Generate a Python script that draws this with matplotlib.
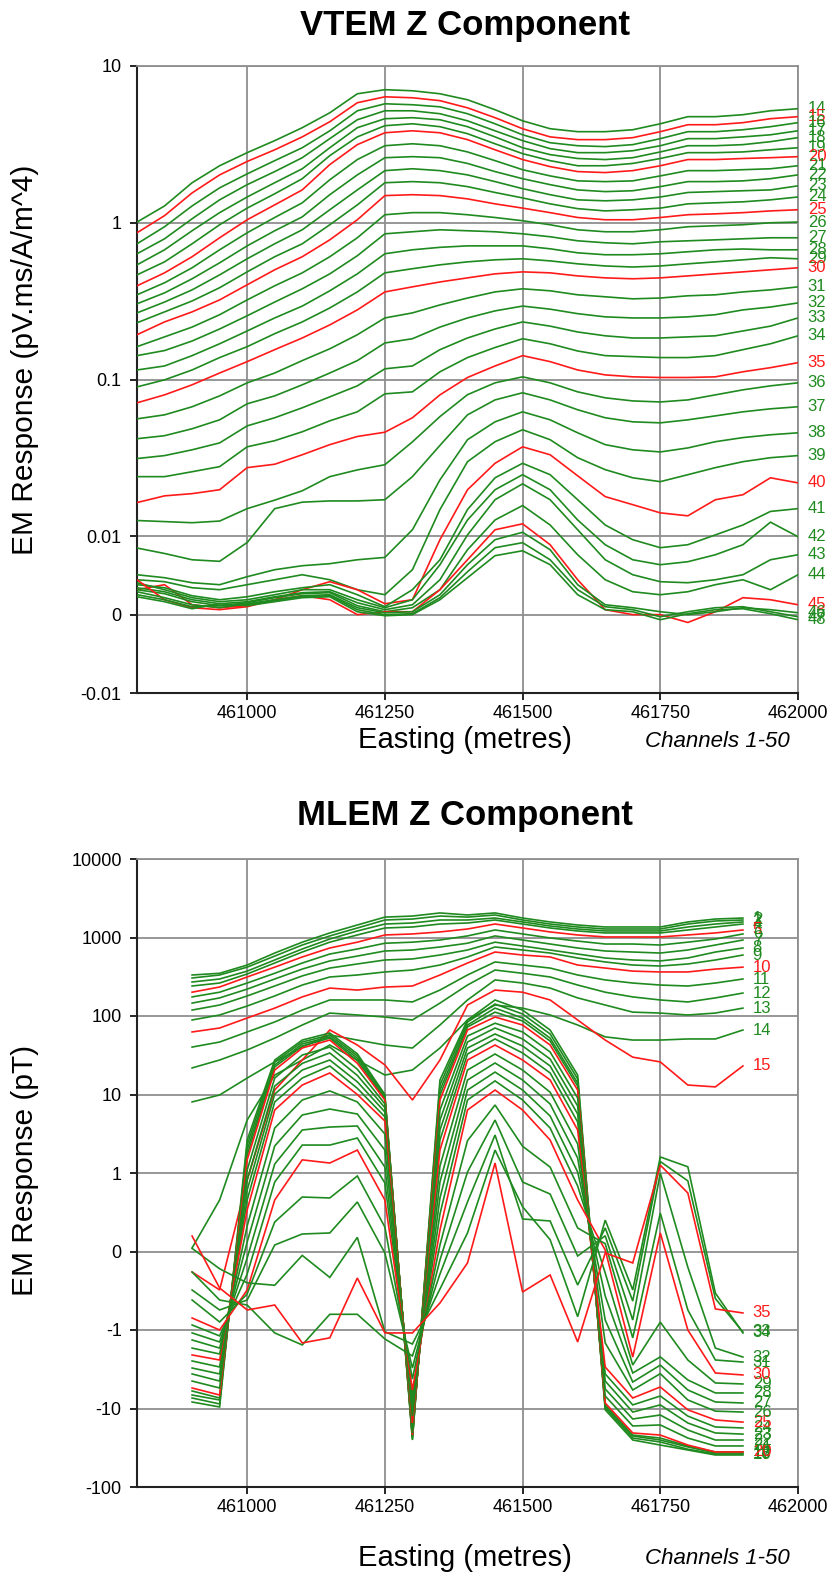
import matplotlib
matplotlib.use("Agg")
import matplotlib.pyplot as plt

plt.rcParams['font.family'] = ['Liberation Sans', 'DejaVu Sans']

# ---------------- VTEM data (Channels 14-48) ----------------
vtem_easting = [460800, 460850, 460900, 460950, 461000, 461050, 461100, 461150, 461200,
                461250, 461300, 461350, 461400, 461450, 461500, 461550, 461600, 461650,
                461700, 461750, 461800, 461850, 461900, 461950, 462000]

vtem_14 = [1.01,1.28,1.80,2.31,2.80,3.34,4.04,5.03,6.65,7.06,6.95,6.65,6.09,5.26,4.47,3.98,3.81,3.81,3.92,4.28,4.75,4.75,4.89,5.18,5.34]
vtem_15 = [0.863,1.11,1.55,2.02,2.46,2.92,3.53,4.41,5.83,6.36,6.27,6.01,5.41,4.68,3.98,3.53,3.39,3.39,3.49,3.81,4.22,4.22,4.35,4.61,4.75]
vtem_16 = [0.734,0.943,1.28,1.67,2.05,2.49,3.01,3.86,5.18,5.74,5.66,5.49,4.96,4.28,3.64,3.24,3.10,3.06,3.15,3.44,3.81,3.81,3.92,4.10,4.35]
vtem_17 = [0.634,0.790,1.06,1.40,1.75,2.12,2.60,3.44,4.54,5.18,5.18,4.96,4.47,3.86,3.34,2.97,2.80,2.80,2.88,3.10,3.44,3.44,3.53,3.64,3.86]
vtem_18 = [0.539,0.672,0.889,1.16,1.46,1.80,2.21,3.01,4.04,4.61,4.68,4.54,4.10,3.53,3.01,2.72,2.57,2.53,2.60,2.83,3.10,3.10,3.15,3.29,3.49]
vtem_19 = [0.465,0.563,0.734,0.971,1.24,1.53,1.91,2.68,3.53,4.16,4.28,4.10,3.70,3.19,2.76,2.49,2.31,2.31,2.39,2.57,2.80,2.80,2.83,2.92,3.01]
vtem_20 = [0.396,0.479,0.607,0.802,1.045,1.30,1.62,2.35,3.15,3.75,3.86,3.75,3.39,2.92,2.53,2.28,2.12,2.09,2.15,2.31,2.53,2.53,2.57,2.60,2.64]
vtem_21 = [0.347,0.414,0.516,0.672,0.863,1.08,1.34,1.88,2.53,3.10,3.19,3.10,2.83,2.49,2.18,1.99,1.85,1.83,1.85,1.99,2.15,2.15,2.18,2.21,2.31]
vtem_22 = [0.304,0.357,0.439,0.555,0.712,0.889,1.09,1.51,2.02,2.60,2.64,2.60,2.39,2.12,1.91,1.75,1.62,1.58,1.60,1.70,1.83,1.83,1.85,1.91,2.02]
vtem_23 = [0.266,0.312,0.373,0.465,0.589,0.734,0.902,1.21,1.62,2.15,2.21,2.15,2.02,1.83,1.65,1.51,1.40,1.38,1.40,1.46,1.56,1.58,1.60,1.62,1.72]
vtem_24 = [0.230,0.270,0.317,0.385,0.486,0.607,0.734,0.971,1.30,1.80,1.83,1.80,1.70,1.56,1.44,1.32,1.23,1.19,1.21,1.24,1.32,1.34,1.36,1.40,1.46]
vtem_25 = [0.193,0.233,0.270,0.322,0.402,0.501,0.607,0.778,1.045,1.49,1.51,1.49,1.42,1.32,1.24,1.16,1.08,1.045,1.045,1.08,1.125,1.14,1.16,1.19,1.21]
vtem_26 = [0.162,0.187,0.216,0.259,0.322,0.396,0.479,0.607,0.802,1.125,1.16,1.16,1.125,1.08,1.03,0.971,0.902,0.876,0.876,0.902,0.943,0.957,0.971,1.00,1.01]
vtem_27 = [0.142,0.153,0.176,0.210,0.255,0.312,0.379,0.472,0.616,0.850,0.876,0.902,0.889,0.876,0.850,0.814,0.767,0.745,0.734,0.756,0.767,0.778,0.790,0.802,0.802]
vtem_28 = [0.115,0.122,0.142,0.169,0.204,0.247,0.294,0.368,0.472,0.634,0.672,0.697,0.712,0.712,0.712,0.682,0.643,0.625,0.625,0.634,0.653,0.672,0.680,0.672,0.672]
vtem_29 = [0.0897,0.0995,0.115,0.138,0.162,0.196,0.233,0.286,0.362,0.479,0.509,0.539,0.563,0.580,0.589,0.571,0.547,0.530,0.522,0.530,0.547,0.563,0.580,0.598,0.589]
vtem_30 = [0.071,0.0798,0.0925,0.110,0.130,0.155,0.184,0.223,0.278,0.362,0.390,0.419,0.445,0.472,0.486,0.479,0.458,0.445,0.439,0.445,0.458,0.472,0.486,0.501,0.516]
vtem_31 = [0.0561,0.0595,0.0670,0.0786,0.0952,0.110,0.132,0.157,0.193,0.247,0.266,0.299,0.331,0.362,0.379,0.368,0.347,0.337,0.327,0.331,0.342,0.347,0.362,0.373,0.390]
vtem_32 = [0.0419,0.0438,0.0485,0.0553,0.0700,0.0786,0.0925,0.110,0.132,0.171,0.182,0.216,0.247,0.274,0.294,0.281,0.263,0.251,0.247,0.247,0.251,0.259,0.278,0.290,0.308]
vtem_33 = [0.0313,0.0327,0.0356,0.0394,0.0506,0.0570,0.066,0.0775,0.0911,0.117,0.122,0.155,0.184,0.210,0.233,0.219,0.201,0.190,0.184,0.184,0.187,0.190,0.204,0.219,0.247]
vtem_34 = [0.0240,0.0240,0.0258,0.0278,0.0372,0.0407,0.0464,0.0545,0.0622,0.081,0.0834,0.112,0.138,0.160,0.182,0.169,0.152,0.142,0.140,0.138,0.138,0.142,0.155,0.169,0.190]
vtem_35 = [0.0164,0.0181,0.0187,0.0198,0.0274,0.0288,0.0331,0.0384,0.0433,0.0461,0.0570,0.0798,0.103,0.122,0.142,0.130,0.115,0.107,0.104,0.103,0.103,0.104,0.112,0.119,0.128]
vtem_36 = [0.0126,0.0124,0.0122,0.0125,0.0150,0.0170,0.0195,0.0240,0.0265,0.0286,0.0400,0.0580,0.0800,0.0952,0.104,0.0952,0.0834,0.0764,0.0730,0.0719,0.0741,0.0798,0.0859,0.0911,0.0952]
vtem_37 = [0.0085,0.0078,0.0070,0.0068,0.0092,0.0150,0.0165,0.0168,0.0168,0.0171,0.0240,0.0380,0.0595,0.0741,0.0823,0.0741,0.0641,0.0570,0.0537,0.0529,0.0553,0.0586,0.0622,0.0650,0.0670]
vtem_38 = [0.00509,0.00471,0.00407,0.00382,0.00484,0.00573,0.00624,0.00650,0.00700,0.00730,0.0110,0.0229,0.0413,0.0537,0.0622,0.0553,0.0457,0.0384,0.0356,0.0345,0.0366,0.0401,0.0426,0.0444,0.0457]
vtem_39 = [0.00445,0.0042,0.00343,0.00318,0.00382,0.00445,0.00509,0.00445,0.00318,0.00254,0.00573,0.0148,0.0299,0.0401,0.0478,0.0413,0.0317,0.0266,0.0236,0.0223,0.0247,0.0274,0.0299,0.0317,0.0327]
vtem_40 = [0.00318,0.00382,0.00126,0.00088,0.00114,0.0019,0.00318,0.0042,0.00318,0.00139,0.0019,0.00956,0.0198,0.0292,0.0372,0.0331,0.0243,0.0179,0.0159,0.0141,0.0135,0.0171,0.0184,0.0236,0.0219]
vtem_41 = [0.00382,0.00343,0.00241,0.0019,0.00228,0.00292,0.00343,0.00382,0.00254,0.00101,0.00318,0.0070,0.0148,0.0236,0.0292,0.0247,0.0171,0.0118,0.00956,0.00854,0.00892,0.0102,0.0118,0.0144,0.0150]
vtem_42 = [0.00407,0.00318,0.00216,0.00165,0.0019,0.00254,0.00318,0.00318,0.0019,0.00088,0.0019,0.00637,0.0127,0.0198,0.0247,0.0198,0.0127,0.00892,0.0070,0.00637,0.00675,0.00764,0.00892,0.0123,0.00994]
vtem_43 = [0.00343,0.00292,0.0019,0.00139,0.00165,0.00228,0.0028,0.00292,0.00152,0.00063,0.00126,0.00445,0.0102,0.0171,0.0216,0.0171,0.0110,0.0070,0.00509,0.0042,0.00407,0.00445,0.00509,0.0070,0.00764]
vtem_44 = [0.00318,0.00267,0.00165,0.00114,0.00152,0.00216,0.00267,0.0028,0.00114,0.00037,0.00088,0.00318,0.00828,0.0127,0.0157,0.0118,0.00764,0.00445,0.00292,0.00254,0.00292,0.00382,0.00445,0.00318,0.00509]
vtem_45 = [0.00445,0.0019,0.00088,0.00063,0.00101,0.0019,0.00241,0.0019,0.0,0.00037,0.00037,0.00318,0.0070,0.0110,0.0120,0.00892,0.00445,0.00063,0.0,0.0,-0.001,0.00037,0.00216,0.0019,0.00126]
vtem_46 = [0.00292,0.00216,0.00126,0.00088,0.00139,0.0019,0.00241,0.00254,0.00088,0.00024,0.00037,0.00254,0.00637,0.00956,0.0106,0.00828,0.00382,0.00126,0.00088,0.00037,0.0,0.00037,0.00088,0.00063,0.00024]
vtem_47 = [0.00254,0.0019,0.00101,0.00114,0.00126,0.00177,0.00228,0.00241,0.00063,0.0,0.00012,0.00216,0.00547,0.00854,0.00918,0.0070,0.00318,0.00101,0.00063,-0.00027,0.00037,0.00088,0.00101,0.00037,-0.00027]
vtem_48 = [0.00228,0.00165,0.00075,0.00139,0.00114,0.00165,0.00216,0.00228,0.00037,-0.00014,0.0,0.0019,0.00471,0.00752,0.00815,0.00637,0.00254,0.00063,0.00037,-0.00065,0.00012,0.00063,0.00075,0.00012,-0.00065]

vtem_channels = list(range(14, 49))
vtem_series = [vtem_14, vtem_15, vtem_16, vtem_17, vtem_18, vtem_19, vtem_20, vtem_21, vtem_22,
               vtem_23, vtem_24, vtem_25, vtem_26, vtem_27, vtem_28, vtem_29, vtem_30, vtem_31,
               vtem_32, vtem_33, vtem_34, vtem_35, vtem_36, vtem_37, vtem_38, vtem_39, vtem_40,
               vtem_41, vtem_42, vtem_43, vtem_44, vtem_45, vtem_46, vtem_47, vtem_48]

# ---------------- MLEM data (Channels 1-35) ----------------
mlem_easting = [460900, 460950, 461000, 461050, 461100, 461150, 461200, 461250, 461300, 461350,
                461400, 461450, 461500, 461550, 461600, 461650, 461700, 461750, 461800, 461850, 461900]

mlem_1 = [333,350,446,634,872,1143,1443,1819,1876,2055,1936,2055,1770,1578,1443,1361,1361,1361,1578,1720,1770]
mlem_2 = [305,333,419,580,802,1047,1322,1671,1720,1876,1819,1936,1671,1485,1361,1283,1283,1283,1485,1623,1671]
mlem_3 = [271,296,373,517,714,956,1211,1485,1530,1671,1671,1770,1578,1401,1283,1211,1211,1211,1361,1485,1578]
mlem_4 = [241,263,343,473,653,872,1077,1322,1361,1485,1530,1671,1485,1322,1211,1143,1143,1143,1247,1361,1485]
mlem_5 = [201,234,314,419,565,735,872,1077,1110,1177,1283,1485,1322,1177,1077,1016,1016,1016,1077,1143,1247]
mlem_6 = [175,201,263,350,473,616,714,845,872,929,1047,1247,1110,987,900,826,826,802,872,956,1110]
mlem_7 = [146,170,220,296,396,503,580,673,693,757,845,1047,929,826,735,673,653,634,693,802,929]
mlem_8 = [119,138,180,241,324,408,460,517,533,598,693,872,779,693,616,548,517,503,548,653,735]
mlem_9 = [89,103,134,180,248,314,333,364,385,446,565,757,693,634,548,488,446,433,460,517,598]
mlem_10 = [62.6,70.3,94.2,126,175,227,214,234,241,333,473,653,598,565,446,408,373,364,364,396,419]
mlem_11 = [40.2,46.6,62.6,83.9,119,160,160,160,151,214,333,488,446,408,333,288,263,248,241,263,296]
mlem_12 = [21.8,27.5,36.9,52.3,76.8,109,103,97.0,89,146,248,385,350,314,248,201,175,160,151,170,196]
mlem_13 = [8.04,9.86,16.2,26.0,40.2,57.3,49.4,42.7,39.1,76.8,160,288,263,227,170,138,112,109,103,109,126]
mlem_14 = [0.045,0.656,4.73,17.7,27.5,42.7,27.5,17.7,20.5,39.1,89,138,126,103,76.8,54.2,49.4,49.4,51.0,51.0,66.3]
mlem_15 = [-0.261,-0.49,0.911,11.4,27.5,66.3,42.7,23.8,8.51,27.5,138,214,201,160,89,49.4,29.9,26.0,13.2,12.5,23.1]
mlem_16 = [-8.26,-9.56,2.63,27.5,49.4,60.7,33.0,10.0,-25.2,15.3,89,160,119,66.3,17.7,-10.4,-25.2,-29.2,-33.8,-39.1,-39.1]
mlem_17 = [-7.35,-8.75,2.27,26.0,46.6,57.3,31.0,9.6,-24.5,13.2,83.9,142,106,59.0,15.8,-9.8,-23.8,-26.7,-33.0,-38.0,-38.0]
mlem_18 = [-6.73,-7.79,1.96,23.8,44.0,54.2,29.0,9.2,-23.1,11.4,76.8,126,94.2,52.3,14.0,-9.3,-22.4,-25.2,-30.9,-36.9,-36.9]
mlem_19 = [-5.98,-7.35,1.70,22.4,41.5,52.3,27.0,8.8,-22.4,9.86,72.5,112,86.4,48.0,12.8,-9.0,-21.8,-23.8,-30.0,-35.8,-35.8]
mlem_20 = [-5.48,-6.73,1.47,20.5,39.1,49.4,25.0,8.5,-21.8,8.51,66.3,97.0,76.8,42.7,11.4,-8.51,-20.5,-21.8,-29.2,-35.8,-35.8]
mlem_21 = [-4.47,-5.48,1.09,16.2,31.8,40.2,21.0,7.6,-20.5,6.35,55.6,80.9,62.6,34.8,9.0,-6.93,-16.7,-16.2,-23.8,-30.0,-30.0]
mlem_22 = [-3.63,-4.47,0.911,12.8,24.9,33.8,17.5,6.8,-18.8,4.73,46.6,70.3,51.0,28.3,7.14,-5.64,-13.6,-12.1,-18.8,-25.2,-25.2]
mlem_23 = [-3.05,-3.63,0.783,10.1,20.5,27.5,14.5,6.0,-17.7,3.53,39.1,59.0,41.5,23.1,5.64,-4.47,-11.1,-9.0,-15.3,-20.5,-21.2]
mlem_24 = [-2.48,-2.96,0.656,8.04,16.2,23.1,12.0,5.2,-16.2,2.63,32.8,51.0,33.8,18.8,4.46,-3.63,-9.0,-6.93,-12.5,-17.2,-17.7]
mlem_25 = [-2.08,-2.41,0.529,6.35,13.2,18.8,10.0,4.6,-15.3,1.96,27.5,42.7,27.5,15.3,3.53,-2.96,-7.35,-5.32,-10.4,-14.0,-14.9]
mlem_26 = [-1.70,-2.02,0.325,3.74,8.51,11.1,8.04,3.14,-12.5,1.23,20.5,32.8,20.5,10.7,2.35,-1.46,-5.81,-3.60,-7.79,-10.8,-11.1]
mlem_27 = [-1.34,-1.70,0.121,2.21,5.48,6.53,5.64,1.96,-10.1,0.885,15.3,25.2,15.3,7.57,1.55,-0.873,-4.60,-2.80,-5.81,-8.26,-8.51]
mlem_28 = [-1.09,-1.42,-0.083,1.30,3.53,3.85,3.97,1.19,-8.51,0.682,11.4,19.3,11.4,5.32,1.03,-0.567,-3.53,-2.20,-4.33,-6.34,-6.34]
mlem_29 = [-0.936,-1.19,-0.287,0.885,2.27,2.27,2.79,0.873,-6.93,0.478,8.51,14.9,8.51,3.74,0.834,-0.274,-2.79,-0.90,-2.41,-4.73,-4.87]
mlem_30 = [-0.847,-1.0,-0.49,0.656,1.47,1.34,1.96,0.656,-5.81,0.274,6.35,11.4,6.35,2.63,0.656,0.019,-2.21,0.236,-1.0,-3.53,-3.74]
mlem_31 = [-0.618,-0.898,-0.541,0.376,0.694,0.682,0.962,0.312,-4.21,0.083,2.58,7.35,2.19,1.19,0.299,0.10,-1.26,0.49,-0.745,-2.41,-2.56]
mlem_32 = [-0.49,-0.745,-0.618,0.083,0.223,0.236,0.631,-0.019,-3.05,-0.108,1.03,4.73,0.885,0.732,-0.057,0.20,-0.873,1.00,-0.20,-1.70,-2.21]
mlem_33 = [-0.261,-0.618,-0.682,-1.09,-1.55,-0.80,-0.80,-1.30,-2.14,-0.287,0.631,3.05,0.414,0.389,-0.427,0.30,-0.631,1.40,0.90,-0.60,-1.06]
mlem_34 = [0.04,-0.22,-0.40,-0.43,-0.05,-0.33,0.18,-1.05,-1.51,-0.478,0.236,1.96,0.57,0.15,-0.83,0.40,-0.49,1.60,1.20,-0.53,-1.09]
mlem_35 = [0.197,-0.465,-0.745,-0.682,-1.46,-1.26,-0.338,-1.09,-1.09,-0.656,-0.146,1.34,-0.516,-0.299,-1.42,-0.019,-0.146,1.26,0.745,-0.732,-0.783]

mlem_channels = list(range(1, 36))
mlem_series = [mlem_1, mlem_2, mlem_3, mlem_4, mlem_5, mlem_6, mlem_7, mlem_8, mlem_9, mlem_10,
               mlem_11, mlem_12, mlem_13, mlem_14, mlem_15, mlem_16, mlem_17, mlem_18, mlem_19,
               mlem_20, mlem_21, mlem_22, mlem_23, mlem_24, mlem_25, mlem_26, mlem_27, mlem_28,
               mlem_29, mlem_30, mlem_31, mlem_32, mlem_33, mlem_34, mlem_35]

x_ticks = [461000, 461250, 461500, 461750, 462000]
vtem_yticks = [-0.01, 0, 0.01, 0.1, 1, 10]
vtem_ylabels = ['-0.01', '0', '0.01', '0.1', '1', '10']
mlem_yticks = [-100, -10, -1, 0, 1, 10, 100, 1000, 10000]
mlem_ylabels = ['-100', '-10', '-1', '0', '1', '10', '100', '1000', '10000']

# ---------------- styling ----------------
GREEN = '#1f8a1f'
RED = '#ff1a1a'
GRID = '#8f8f8f'
W, H = 840, 1581

fig = plt.figure(figsize=(W / 100, H / 100), dpi=100)


def rect(l, t, r, b):
    return [l / W, 1 - b / H, (r - l) / W, (b - t) / H]


def style_axes(ax, yticks, ylabels):
    ax.set_xlim(460800, 462000)
    ax.set_xticks(x_ticks)
    ax.set_xticklabels([str(v) for v in x_ticks])
    ax.set_yticks(yticks)
    ax.set_yticklabels(ylabels)
    ax.minorticks_off()
    ax.grid(True, color=GRID, lw=1.3)
    ax.set_axisbelow(True)
    for s in ('top', 'right'):
        ax.spines[s].set_color(GRID)
        ax.spines[s].set_linewidth(1.3)
    for s in ('left', 'bottom'):
        ax.spines[s].set_color('#222222')
        ax.spines[s].set_linewidth(1.5)
    ax.tick_params(axis='both', direction='out', length=5, width=1.2,
                   colors='black', labelsize=13, pad=4)
    ax.tick_params(axis='y', pad=6)


def draw(ax, xs, channels, series, label_dx):
    for ch, ys in zip(channels, series):
        col = RED if ch % 5 == 0 else GREEN
        ax.plot(xs, ys, color=col, lw=1.2, solid_joinstyle='miter', zorder=3)
        ax.annotate(str(ch), xy=(xs[-1], ys[-1]), xytext=(label_dx, 0),
                    textcoords='offset points', ha='left', va='center',
                    fontsize=12, color=col, annotation_clip=False)


# --- VTEM axes ---
ax1 = fig.add_axes(rect(137, 66, 798, 693))
ax1.set_yscale('symlog', linthresh=0.01, linscale=0.45)
ax1.set_ylim(-0.01, 10)
style_axes(ax1, vtem_yticks, vtem_ylabels)
draw(ax1, vtem_easting, vtem_channels, vtem_series, 7)

# --- MLEM axes ---
ax2 = fig.add_axes(rect(137, 859, 798, 1487))
ax2.set_yscale('symlog', linthresh=1, linscale=0.9)
ax2.set_ylim(-100, 10000)
style_axes(ax2, mlem_yticks, mlem_ylabels)
draw(ax2, mlem_easting, mlem_channels, mlem_series, 7)

# --- texts ---
def ftext(x, y, s, **kw):
    fig.text(x / W, 1 - y / H, s, **kw)

ftext(465, 25, 'VTEM Z Component', fontsize=25, fontweight='bold', ha='center', va='center')
ftext(465, 815, 'MLEM Z Component', fontsize=25, fontweight='bold', ha='center', va='center')
ftext(25, 360, 'EM Response (pV.ms/A/m^4)', fontsize=21.5, rotation=90, ha='center', va='center')
ftext(25, 1170, 'EM Response (pT)', fontsize=21.5, rotation=90, ha='center', va='center')
ftext(465, 740, 'Easting (metres)', fontsize=21, ha='center', va='center')
ftext(465, 1558, 'Easting (metres)', fontsize=21, ha='center', va='center')
ftext(717, 741, 'Channels 1-50', fontsize=16, style='italic', ha='center', va='center')
ftext(717, 1559, 'Channels 1-50', fontsize=16, style='italic', ha='center', va='center')

fig.savefig('out.png', dpi=100)
